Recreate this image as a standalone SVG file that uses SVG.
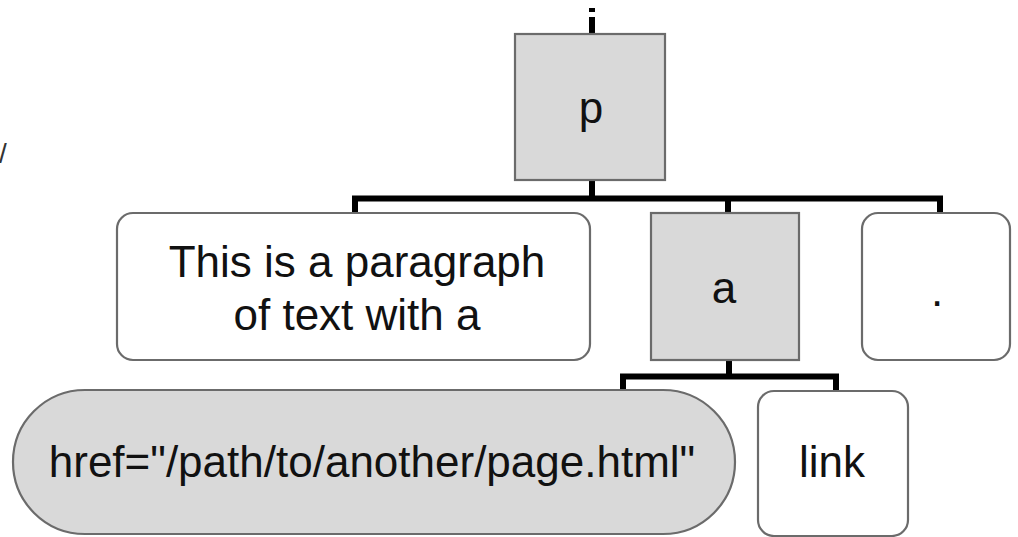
<svg xmlns="http://www.w3.org/2000/svg" width="1018" height="537" viewBox="0 0 1018 537">
  <style>
    .box { stroke: #6b6b6b; stroke-width: 2.2; }
    .el { fill: #d9d9d9; }
    .tx { fill: #ffffff; }
    .lbl { font-family: "Liberation Sans", Arial, sans-serif; font-size: 44px; fill: #111; text-anchor: middle; }
    .con { stroke: #000; stroke-width: 6; fill: none; stroke-linecap: butt; }
  </style>
  <rect width="1018" height="537" fill="#ffffff"/>
  <text x="-1" y="163" font-family="Liberation Sans, Arial, sans-serif" font-size="28" fill="#333">/</text>
  <g id="connectors">
    <line class="con" x1="592" y1="8" x2="592" y2="12"/>
    <line class="con" x1="592" y1="17" x2="592" y2="34"/>
    <path class="con" d="M592 180 V198.5 M352 198.5 H943 M355 198.5 V213 M728 198.5 V213 M940 198.5 V213"/>
    <path class="con" d="M729 360 V376.5 M620 376.5 H839 M623 376.5 V391 M836 376.5 V391"/>
  </g>
  <g id="node-p">
    <rect class="box el" x="515" y="34" width="150" height="146"/>
    <text class="lbl" x="591" y="123">p</text>
  </g>
  <g id="node-text1">
    <rect class="box tx" x="117" y="213" width="473" height="147" rx="16"/>
    <text class="lbl" x="357" y="277">This is a paragraph</text>
    <text class="lbl" x="357" y="330">of text with a</text>
  </g>
  <g id="node-a">
    <rect class="box el" x="651" y="213" width="148" height="147"/>
    <text class="lbl" x="724" y="303">a</text>
  </g>
  <g id="node-dot">
    <rect class="box tx" x="862" y="213" width="148" height="147" rx="16"/>
    <text class="lbl" x="937" y="306">.</text>
  </g>
  <g id="node-href">
    <rect class="box el" x="13" y="390" width="722" height="144" rx="72"/>
    <text class="lbl" x="372" y="477">href="/path/to/another/page.html"</text>
  </g>
  <g id="node-link">
    <rect class="box tx" x="758" y="391" width="150" height="145" rx="16"/>
    <text class="lbl" x="832" y="477">link</text>
  </g>
</svg>
